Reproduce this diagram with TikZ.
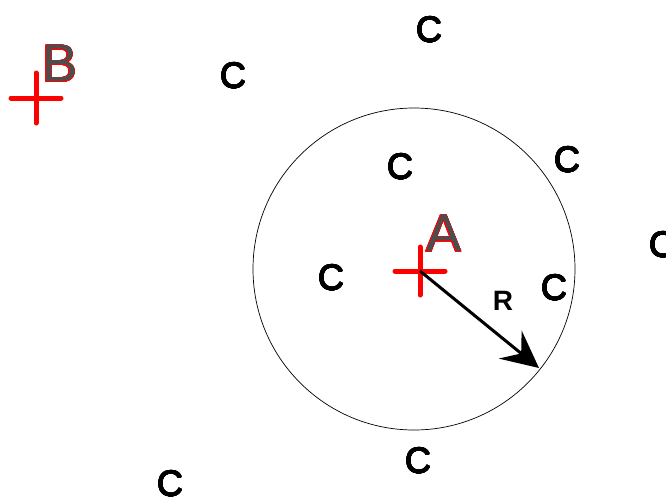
\documentclass[tikz,border=0pt]{standalone}
\usepackage{fontspec}
\setmainfont{Liberation Sans}
\usepackage[copies]{contour}
\usetikzlibrary{arrows.meta}
\definecolor{lblgray}{HTML}{4D4D4D}
\tikzset{
  cpt/.style={inner sep=0pt, font=\fontsize{36}{36}\selectfont},
  big/.style={inner sep=0pt, font=\fontsize{53}{53}\selectfont},
  cross/.style={draw=red, line width=5pt, line cap=round},
  radius arrow/.style={line width=3pt, -{Stealth[length=37pt,width=36pt,inset=14pt]}}
}
\newcommand{\heavyC}{\contourlength{0.45pt}\contour{black}{C}}
\newcommand{\outlined}[1]{\contourlength{0.6pt}\contour{red}{\textcolor{lblgray}{#1}}}
\begin{document}
\begin{tikzpicture}[x=1pt,y=-1pt]
\useasboundingbox (0,0) rectangle (666,499);
\draw[line width=0.7pt] (414,269) circle[radius=161];
% crosses
\coordinate (A) at (420,271);
\coordinate (B) at (36,98);
\draw[cross] (A) ++(-25,0) -- ++(50,0) (A) ++(0,-24) -- ++(0,48);
\draw[cross] (B) ++(-25,0) -- ++(50,0) (B) ++(0,-25) -- ++(0,50);
\coordinate (Rtip) at (539,368);
\draw[radius arrow] (A) -- (Rtip);
\node[inner sep=0pt, font=\fontsize{28}{28}\selectfont\bfseries] (rlab) at (503,301) {R};
\node[big] (la) at (444,234) {\outlined{A}};
\node[big] (lb) at (60,64) {\outlined{B}};
% C points
\node[cpt] (c1) at (429,30) {\heavyC};
\node[cpt] (c2) at (233,76) {\heavyC};
\node[cpt] (c3) at (567,160) {\heavyC};
\node[cpt] (c4) at (400,167) {\heavyC};
\node[cpt] (c5) at (662,245) {\heavyC};
\node[cpt] (c6) at (331,278) {\heavyC};
\node[cpt] (c7) at (554,288) {\heavyC};
\node[cpt] (c8) at (418,461) {\heavyC};
\node[cpt] (c9) at (170,484) {\heavyC};
\end{tikzpicture}
\end{document}
